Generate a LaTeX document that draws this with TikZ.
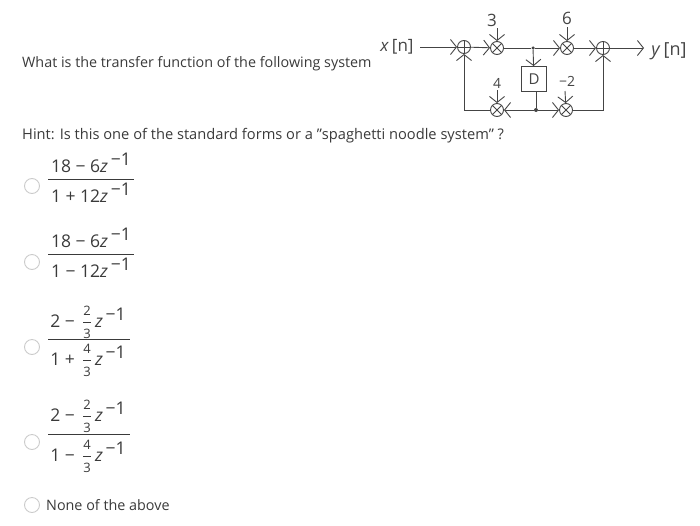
\documentclass[tikz,border=0pt]{standalone}
\usepackage{amsmath}
\usepackage{fontspec}
\setmainfont{Open Sans}
\usepackage{tikz}
\usetikzlibrary{arrows.meta}
\definecolor{inktext}{HTML}{3A3A3A}
\definecolor{inksketch}{HTML}{444444}
\definecolor{radiogray}{HTML}{CBCBCB}
\newcommand{\zinv}{\textit{z}\,\raisebox{6.5pt}{−1}}
\newcommand{\stackfrac}[2]{\,$\displaystyle\frac{\mbox{\fontsize{13}{12}\selectfont\rule[-2pt]{0pt}{9pt}#1}}{\mbox{\fontsize{13}{12}\selectfont\rule{0pt}{10.5pt}#2}}$\,}
\tikzset{
  plaintext/.style={inner sep=0pt,text=inktext,font=\fontsize{14.35}{17}\selectfont},
  fractext/.style={inner sep=0pt,text=inktext,anchor=base,font=\fontsize{17.5}{20}\selectfont},
  sketchtext/.style={inner sep=0pt,text=inksketch,font=\fontsize{14}{17}\selectfont},
  radiobtn/.style={circle,draw=radiogray,line width=0.9pt,fill=white,minimum size=15pt,inner sep=0pt},
  fracbar/.style={draw=inktext,line width=1pt},
  wire/.style={draw=inksketch,line width=0.9pt},
  flow/.style={wire,-{Straight Barb[length=6pt,width=15pt]}},
  sumnode/.style={circle,draw=inksketch,line width=0.9pt,minimum size=13pt,inner sep=0pt,
    path picture={\draw[inksketch,line width=0.9pt] (path picture bounding box.north) -- (path picture bounding box.south)
      (path picture bounding box.west) -- (path picture bounding box.east);}},
  gainnode/.style={circle,draw=inksketch,line width=0.9pt,minimum size=13pt,inner sep=0pt,
    path picture={\draw[inksketch,line width=0.9pt] (path picture bounding box.north west) -- (path picture bounding box.south east)
      (path picture bounding box.south west) -- (path picture bounding box.north east);}},
  dot/.style={circle,fill=inksketch,minimum size=4pt,inner sep=0pt}
}
\begin{document}
\begin{tikzpicture}[x=1pt,y=-1pt]
    \useasboundingbox (0,0) rectangle (700,525);

    % question text
    \node[plaintext,anchor=base west] (question) at (22,67) {What is the transfer function of the following system};
    \node[plaintext,anchor=base west,font=\fontsize{14.65}{17}\selectfont] (hint) at (22,139) {Hint: Is this one of the standard forms or a "spaghetti noodle system" ?};

    % block diagram
    \node[sketchtext,font=\fontsize{17}{18}\selectfont] (xin) at (397,47) {\textit{x}\,[n]};
    \node[sumnode] (addl) at (464,47) {};
    \node[gainnode] (gthree) at (497,48) {};
    \node[dot,minimum size=3.5pt] (jtop) at (533,48) {};
    \node[gainnode] (gsix) at (567,48) {};
    \node[sumnode] (addr) at (603,48) {};
    \coordinate (xstart) at (420,47);
    \coordinate (yend) at (644,48);
    \node[sketchtext,font=\fontsize{18}{20}\selectfont] (yout) at (669,51) {\textit{y}\,[n]};
    \node[draw=inksketch,line width=0.9pt,minimum size=25pt,inner sep=0pt,text=inksketch,font=\fontsize{15}{17}\selectfont] (delay) at (534,79) {D};
    \node[gainnode] (gfour) at (497,110) {};
    \node[dot] (jbot) at (536,110) {};
    \node[gainnode] (gminus) at (566,110) {};
    \coordinate (cl) at (464,110);
    \coordinate (cr) at (603,110);

    \node[sketchtext,font=\fontsize{17}{20}\selectfont] (lthree) at (492,20) {3};
    \node[sketchtext,font=\fontsize{17}{20}\selectfont] (lsix) at (567,18) {6};
    \node[sketchtext] (lfour) at (497,83) {4};
    \node[sketchtext] (lminus) at (567,81) {−2};
    \coordinate (athree) at (497,28);
    \coordinate (asix) at (567,27);
    \coordinate (afour) at (497,90);
    \coordinate (aminus) at (565,91);

    \draw[flow] (xstart) -- (addl);
    \draw[flow] (addl) -- (gthree);
    \draw[wire] (gthree) -- (jtop);
    \draw[flow] (jtop) -- (gsix);
    \draw[flow] (gsix) -- (addr);
    \draw[flow] (addr) -- (yend);
    \draw[flow] (jtop) -- (delay);
    \draw[wire] (delay.south -| jbot) -- (jbot);
    \draw[flow] (jbot) -- (gfour);
    \draw[flow] (jbot) -- (gminus);
    \draw[flow] (gfour) -- (cl) -- (addl);
    \draw[flow] (gminus) -- (cr) -- (addr);
    \draw[flow] (athree) -- (gthree);
    \draw[flow] (asix) -- (gsix);
    \draw[flow] (afour) -- (gfour);
    \draw[flow] (aminus) -- (gminus);

    % answer options
    \node[radiobtn] (rone) at (32,186) {};
    \node[fractext] (numone) at (91,172) {18 − 6\zinv};
    \node[fractext] (denone) at (91,202) {1 + 12\zinv};
    \path[fracbar] (48,179) -- (134,179);

    \node[radiobtn] (rtwo) at (32,262) {};
    \node[fractext] (numtwo) at (91,247) {18 − 6\zinv};
    \node[fractext] (dentwo) at (91,277) {1 − 12\zinv};
    \path[fracbar] (48,254) -- (134,254);

    \node[radiobtn] (rthree) at (32,347) {};
    \node[fractext] (numthree) at (88,327) {2 − \stackfrac{2}{3}\zinv};
    \node[fractext] (denthree) at (88,365) {1 + \stackfrac{4}{3}\zinv};
    \path[fracbar] (48,339) -- (130,339);

    \node[radiobtn] (rfour) at (32,442) {};
    \node[fractext] (numfour) at (88,421) {2 − \stackfrac{2}{3}\zinv};
    \node[fractext] (denfour) at (88,461) {1 − \stackfrac{4}{3}\zinv};
    \path[fracbar] (48,434) -- (130,434);

    \node[radiobtn] (rnone) at (32,505) {};
    \node[plaintext,anchor=base west] (none) at (46,510) {None of the above};
\end{tikzpicture}
\end{document}
